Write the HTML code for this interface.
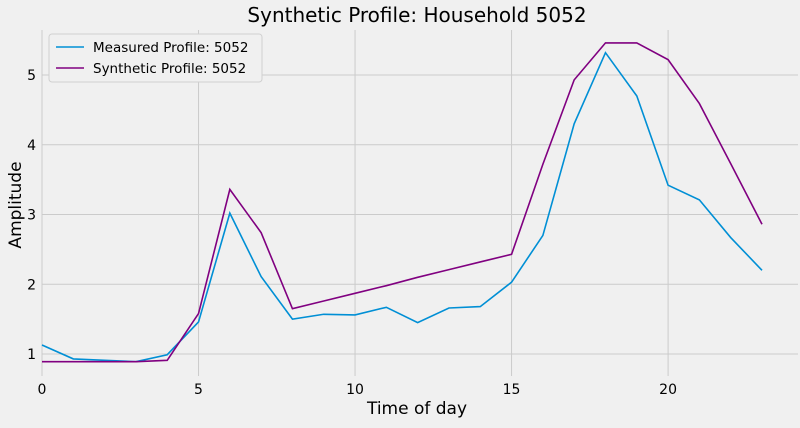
<!DOCTYPE html>
<html><head><meta charset="utf-8"><style>
body{margin:0;background:#f0f0f0;font-family:"DejaVu Sans","Liberation Sans",sans-serif;}
</style></head><body>
<svg id="chart" width="800" height="424" xmlns="http://www.w3.org/2000/svg" font-family="DejaVu Sans, Liberation Sans, sans-serif">
<rect width="800" height="424" fill="#f0f0f0"/>
<g id="grid"></g><g id="lines"></g><g id="ticks"></g>
<text x="417" y="22" text-anchor="middle" font-size="20" fill="#000">Synthetic Profile: Household 5052</text>
<text x="417" y="414" text-anchor="middle" font-size="17" fill="#000">Time of day</text>
<text x="21" y="205" text-anchor="middle" font-size="17" fill="#000" transform="rotate(-90 21 205)">Amplitude</text>
<g>
<rect x="49" y="34" width="213" height="48" rx="3" fill="#f0f0f0" stroke="#d0d0d0"/>
<line x1="56" y1="47" x2="84" y2="47" stroke="#008fd5" stroke-width="1.6"/>
<text x="93" y="52" font-size="13.5">Measured Profile: 5052</text>
<line x1="56" y1="68" x2="84" y2="68" stroke="#800080" stroke-width="1.6"/>
<text x="93" y="73" font-size="13.5">Synthetic Profile: 5052</text>
</g>
</svg>
<script>
const hours=[0,1,2,3,4,5,6,7,8,9,10,11,12,13,14,15,16,17,18,19,20,21,22,23];
const measured=[1.13,0.93,0.91,0.89,0.99,1.46,3.02,2.11,1.50,1.57,1.56,1.67,1.45,1.66,1.68,2.03,2.70,4.30,5.32,4.70,3.42,3.21,2.67,2.20];
const synthetic=[0.89,0.89,0.89,0.89,0.91,1.58,3.36,2.74,1.65,1.76,1.87,1.98,2.10,2.21,2.32,2.43,3.72,4.93,5.46,5.46,5.22,4.59,3.73,2.86];
const xTicks=[0,5,10,15,20];
const yTicks=[1,2,3,4,5];
const X0=42,X1=798,Y0=376,Y1=30,xmin=0,xmax=24.15,ymin=0.685,ymax=5.645;
const xs=v=>X0+(v-xmin)/(xmax-xmin)*(X1-X0);
const ys=v=>Y0-(v-ymin)/(ymax-ymin)*(Y0-Y1);
const NS="http://www.w3.org/2000/svg";
const grid=document.getElementById('grid'),ticks=document.getElementById('ticks'),lines=document.getElementById('lines');
xTicks.forEach(t=>{
 const l=document.createElementNS(NS,'line');
 l.setAttribute('x1',xs(t));l.setAttribute('x2',xs(t));l.setAttribute('y1',Y1);l.setAttribute('y2',Y0);
 l.setAttribute('stroke','#cbcbcb');l.setAttribute('stroke-width','1');
 
 
 grid.appendChild(l);
 const tx=document.createElementNS(NS,'text');
 tx.setAttribute('x',xs(t));tx.setAttribute('y',Y0+18);tx.setAttribute('text-anchor','middle');tx.setAttribute('font-size','14');
 tx.textContent=t;
 
 
 ticks.appendChild(tx);
});
yTicks.forEach(t=>{
 const l=document.createElementNS(NS,'line');
 l.setAttribute('x1',X0);l.setAttribute('x2',X1);l.setAttribute('y1',ys(t));l.setAttribute('y2',ys(t));
 l.setAttribute('stroke','#cbcbcb');l.setAttribute('stroke-width','1');
 
 
 grid.appendChild(l);
 const tx=document.createElementNS(NS,'text');
 tx.setAttribute('x',X0-6);tx.setAttribute('y',ys(t)+5);tx.setAttribute('text-anchor','end');tx.setAttribute('font-size','14');
 tx.textContent=t;
 
 
 ticks.appendChild(tx);
});
function drawLine(vals,color,name){
 const p=document.createElementNS(NS,'polyline');
 p.setAttribute('points',hours.map((h,i)=>xs(h)+','+ys(vals[i])).join(' '));
 p.setAttribute('fill','none');p.setAttribute('stroke',color);p.setAttribute('stroke-width','1.6');
 
 
 lines.appendChild(p);
}
drawLine(measured,'#008fd5','measured-line');
drawLine(synthetic,'#800080','synthetic-line');
</script>
</body></html>
